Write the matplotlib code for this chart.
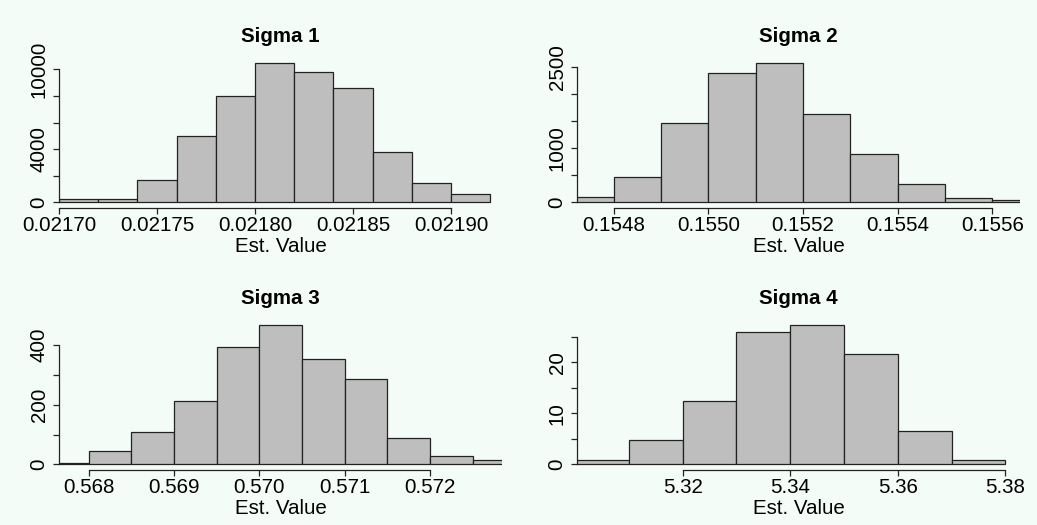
import numpy as np
import matplotlib
matplotlib.use('Agg')
import matplotlib.pyplot as plt

plt.rcParams['font.family'] = ['Liberation Sans', 'DejaVu Sans']

# bin edges and densities
sig1_edges = [0.02170, 0.02172, 0.02174, 0.02176, 0.02178, 0.02180, 0.02182,
              0.02184, 0.02186, 0.02188, 0.02190, 0.02192]
sig1_dens = [280, 270, 1680, 5010, 7970, 10500, 9830, 8600, 3810, 1430, 600]

sig2_edges = [0.1547, 0.1548, 0.1549, 0.1550, 0.1551, 0.1552, 0.1553,
              0.1554, 0.1555, 0.1556, 0.1557]
sig2_dens = [93, 463, 1475, 2390, 2586, 1642, 895, 340, 74, 37]

sig3_edges = [0.5675, 0.5680, 0.5685, 0.5690, 0.5695, 0.5700, 0.5705,
              0.5710, 0.5715, 0.5720, 0.5725, 0.5730]
sig3_dens = [4.5, 44, 109, 212, 393, 469, 352, 288, 88.5, 28, 14.6]

sig4_edges = [5.30, 5.31, 5.32, 5.33, 5.34, 5.35, 5.36, 5.37, 5.38]
sig4_dens = [0.8, 4.84, 12.5, 25.9, 27.4, 21.7, 6.6, 0.8]

sig1_xticks = [0.02170, 0.02175, 0.02180, 0.02185, 0.02190]
sig1_xlabels = ['0.02170', '0.02175', '0.02180', '0.02185', '0.02190']
sig1_yticks = [0, 2000, 4000, 6000, 8000, 10000]
sig1_ylabels = ['0', '', '4000', '', '', '10000']

sig2_xticks = [0.1548, 0.1550, 0.1552, 0.1554, 0.1556]
sig2_xlabels = ['0.1548', '0.1550', '0.1552', '0.1554', '0.1556']
sig2_yticks = [0, 500, 1000, 1500, 2000, 2500]
sig2_ylabels = ['0', '', '1000', '', '', '2500']

sig3_xticks = [0.568, 0.569, 0.570, 0.571, 0.572]
sig3_xlabels = ['0.568', '0.569', '0.570', '0.571', '0.572']
sig3_yticks = [0, 100, 200, 300, 400]
sig3_ylabels = ['0', '', '200', '', '400']

sig4_xticks = [5.32, 5.34, 5.36, 5.38]
sig4_xlabels = ['5.32', '5.34', '5.36', '5.38']
sig4_yticks = [0, 5, 10, 15, 20, 25]
sig4_ylabels = ['0', '', '10', '', '20', '']

bg = '#f4fcf8'
fig = plt.figure(figsize=(10.37, 5.25), dpi=100, facecolor=bg)

panels = [
    ('Sigma 1', sig1_edges, sig1_dens, sig1_xticks, sig1_xlabels, sig1_yticks, sig1_ylabels,
     (0.02170, 0.021926), [0.0569, 0.6038]),
    ('Sigma 2', sig2_edges, sig2_dens, sig2_xticks, sig2_xlabels, sig2_yticks, sig2_ylabels,
     (0.1547225, 0.1556585), [0.5564, 0.6038]),
    ('Sigma 3', sig3_edges, sig3_dens, sig3_xticks, sig3_xlabels, sig3_yticks, sig3_ylabels,
     (0.567652, 0.572845), [0.0569, 0.1048]),
    ('Sigma 4', sig4_edges, sig4_dens, sig4_xticks, sig4_xlabels, sig4_yticks, sig4_ylabels,
     (5.30034, 5.38273), [0.5564, 0.1048]),
]

fs = 14.8
for title, edges, dens, xt, xl, yt, yl, xlim, pos in panels:
    ax = fig.add_axes([pos[0], pos[1], 0.4272, 0.2876])
    ax.set_facecolor(bg)
    edges = np.array(edges)
    ax.bar(edges[:-1], dens, width=np.diff(edges), align='edge',
           color='#bebebe', edgecolor='#222222', linewidth=0.9)
    top = max(dens)
    ax.set_xlim(*xlim)
    ax.set_ylim(-0.04 * top, 1.04 * top)

    for s in ['top', 'right']:
        ax.spines[s].set_visible(False)
    ax.spines['left'].set_bounds(0, yt[-1])
    ax.spines['bottom'].set_bounds(xt[0], xt[-1])
    for s in ['left', 'bottom']:
        ax.spines[s].set_linewidth(0.9)
        ax.spines[s].set_color('#222222')

    ax.set_xticks(xt)
    ax.set_xticklabels(xl, fontsize=fs)
    ax.set_yticks(yt)
    ax.set_yticklabels(yl, fontsize=fs, rotation=90, va='center')
    ax.tick_params(axis='both', direction='out', length=4.5, width=0.9, color='#222222')
    ax.tick_params(axis='x', pad=1.5)
    ax.tick_params(axis='y', pad=3)

    ax.set_title(title, fontsize=fs, fontweight='bold', pad=11)
    ax.set_xlabel('Est. Value', fontsize=fs, labelpad=1.5)

fig.savefig('out.png', dpi=100, facecolor=bg)
